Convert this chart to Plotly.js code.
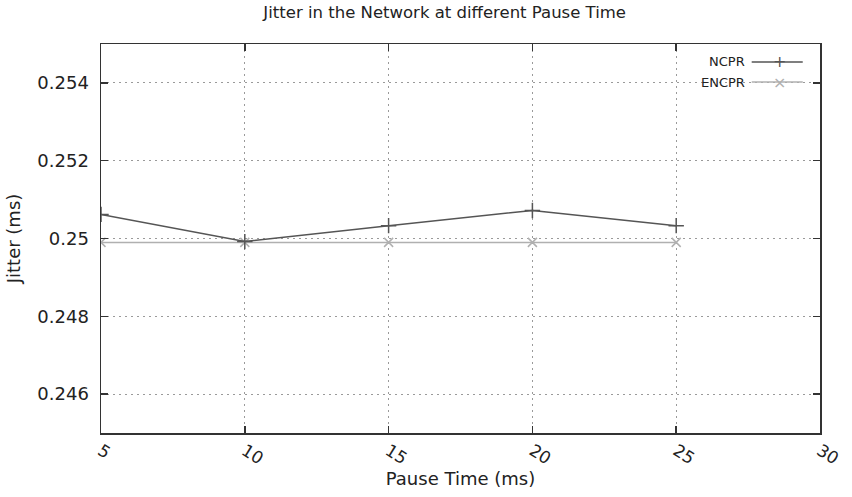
<!DOCTYPE html>
<html>
<head>
<meta charset="utf-8">
<script src="https://cdn.plot.ly/plotly-3.0.1.min.js"></script>
<style>html,body{margin:0;padding:0;background:#fff;}#chart{width:852px;height:497px;}</style>
</head>
<body>
<div id="chart"></div>
<script>
const pauseTime = [5, 10, 15, 20, 25];
const ncpr = [0.25062, 0.24992, 0.25033, 0.25072, 0.25033];
const encpr = [0.2499, 0.2499, 0.2499, 0.2499, 0.2499];
const xTicks = [5, 10, 15, 20, 25, 30];
const yTicks = [0.246, 0.248, 0.25, 0.252, 0.254];
const yTickText = ['0.246', '0.248', '0.25', '0.252', '0.254'];
const seriesNames = ['NCPR', 'ENCPR'];

const font = 'DejaVu Sans, Verdana, sans-serif';
const c1 = '#555555', c2 = '#b0b0b0';

const traces = [
  {x: pauseTime, y: encpr, name: seriesNames[1], mode: 'lines+markers', cliponaxis: true,
   line: {color: c2, width: 1.5}, marker: {symbol: 'x-thin', size: 9, line: {color: c2, width: 1.5}, color: c2},
   showlegend: false},
  {x: pauseTime, y: ncpr, name: seriesNames[0], mode: 'lines+markers', cliponaxis: true,
   line: {color: c1, width: 1.5}, marker: {symbol: 'cross-thin', size: 11, line: {color: c1, width: 1.5}, color: c1},
   showlegend: false}
];

// legend drawn via annotations and shapes (sample lines in paper coordinates)
const legendShapes = [];
const legendAnn = [];
const legY = [0.954, 0.902];
const legCols = [c1, c2];
const legSym = ['+', '×'];
seriesNames.forEach((n, i) => {
  legendShapes.push({type: 'line', xref: 'paper', yref: 'paper', x0: 0.905, x1: 0.976, y0: legY[i], y1: legY[i],
    line: {color: legCols[i], width: 1.5}});
  legendAnn.push({xref: 'paper', yref: 'paper', x: 0.899, y: legY[i], xanchor: 'right', yanchor: 'middle',
    text: n, showarrow: false, font: {family: font, size: 13, color: '#222'}});
  legendAnn.push({xref: 'paper', yref: 'paper', x: 0.944, y: legY[i], xanchor: 'center', yanchor: 'middle',
    text: legSym[i], showarrow: false, font: {family: font, size: 16, color: legCols[i]}});
});

const layout = {
  width: 852, height: 497,
  margin: {l: 101, r: 32, t: 44, b: 64},
  paper_bgcolor: '#fff', plot_bgcolor: '#fff',
  font: {family: font, color: '#222'},
  title: {text: 'Jitter in the Network at different Pause Time', font: {family: font, size: 16.5, color: '#222'},
    x: 0.478, xref: 'paper', xanchor: 'center', y: 0.975, yref: 'container', yanchor: 'middle'},
  xaxis: {range: [5, 30], tickvals: xTicks, ticktext: xTicks.map(String), tickangle: 32,
    ticks: 'inside', ticklen: 7, tickcolor: '#333', tickwidth: 1.5, mirror: 'ticks',
    showline: true, linecolor: '#333', linewidth: 1.5,
    showgrid: true, gridcolor: '#9a9a9a', griddash: '2px,4px', gridwidth: 1, zeroline: false,
    tickfont: {family: font, size: 17, color: '#222'}, ticklabelstandoff: 0,
    title: {text: 'Pause Time (ms)', font: {family: font, size: 18, color: '#222'}, standoff: 0}},
  yaxis: {range: [0.245, 0.255], tickvals: yTicks, ticktext: yTickText,
    ticks: 'inside', ticklen: 7, tickcolor: '#333', tickwidth: 1.5, mirror: 'ticks',
    showline: true, linecolor: '#333', linewidth: 1.5,
    showgrid: true, gridcolor: '#9a9a9a', griddash: '2px,4px', gridwidth: 1, zeroline: false,
    tickfont: {family: font, size: 18, color: '#222'}, ticklabelstandoff: 7,
    title: {text: 'Jitter (ms)', font: {family: font, size: 18, color: '#222'}, standoff: 12}},
  shapes: legendShapes,
  annotations: legendAnn,
  showlegend: false
};

Plotly.newPlot('chart', traces, layout, {displayModeBar: false, staticPlot: true});
</script>
</body>
</html>
